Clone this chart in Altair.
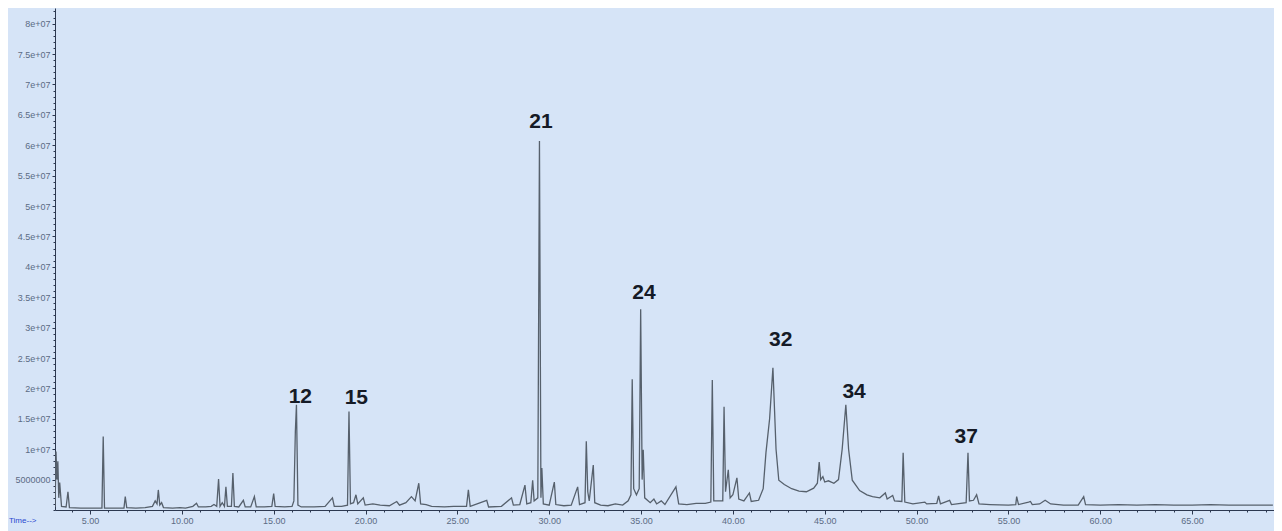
import altair as alt
import pandas as pd

# ---- chromatogram trace (retention time in min, abundance) ----
time_min = [
    3.10, 3.15, 3.20, 3.25, 3.30, 3.35, 3.45, 3.70, 3.80, 3.88, 4.50, 5.00,
    5.65, 5.72, 5.79, 6.50, 6.85, 6.92, 7.00, 7.50, 8.00, 8.40, 8.55, 8.65,
    8.72, 8.80, 8.90, 9.00, 9.50, 9.90, 10.20, 10.60, 10.80, 10.90, 11.30, 11.60,
    11.75, 11.90, 12.00, 12.08, 12.20, 12.32, 12.40, 12.48, 12.70, 12.78, 12.86, 13.10,
    13.35, 13.45, 13.75, 13.95, 14.05, 14.50, 14.90, 15.00, 15.08, 15.60, 16.00, 16.10,
    16.18, 16.24, 16.32, 16.50, 17.20, 17.80, 18.20, 18.30, 18.70, 19.02, 19.10, 19.18,
    19.35, 19.48, 19.58, 19.88, 19.98, 20.40, 20.80, 21.30, 21.70, 21.85, 22.20, 22.50,
    22.70, 22.90, 23.00, 23.30, 23.60, 24.30, 24.80, 25.50, 25.60, 25.70, 26.60, 26.70,
    27.40, 27.95, 28.05, 28.40, 28.68, 28.78, 29.00, 29.10, 29.18, 29.38, 29.47, 29.55,
    29.60, 29.68, 30.00, 30.28, 30.36, 30.80, 31.20, 31.55, 31.65, 31.95, 32.02, 32.10,
    32.18, 32.40, 32.48, 32.80, 33.20, 33.60, 34.00, 34.30, 34.45, 34.52, 34.60, 34.75,
    34.90, 34.98, 35.06, 35.12, 35.20, 35.50, 35.70, 35.85, 36.10, 36.30, 36.90, 37.05,
    37.50, 38.00, 38.50, 38.80, 38.88, 38.96, 39.20, 39.45, 39.52, 39.60, 39.75, 39.85,
    40.00, 40.22, 40.32, 40.60, 40.90, 41.00, 41.40, 41.65, 41.80, 42.00, 42.18, 42.35,
    42.50, 42.80, 43.20, 43.60, 44.00, 44.40, 44.60, 44.70, 44.78, 44.90, 45.00, 45.20,
    45.50, 45.75, 45.95, 46.15, 46.30, 46.50, 46.90, 47.30, 47.60, 48.00, 48.30, 48.40,
    48.70, 48.80, 49.20, 49.27, 49.36, 49.80, 50.45, 50.55, 51.10, 51.20, 51.30, 51.80,
    51.90, 52.70, 52.80, 52.88, 53.10, 53.27, 53.40, 54.00, 55.00, 55.40, 55.45, 55.55,
    56.10, 56.20, 56.30, 56.70, 57.00, 57.30, 58.00, 58.80, 59.10, 59.20, 60.00, 61.00,
    62.00, 63.00, 64.00, 65.00, 66.00, 67.00, 68.00, 69.40,
]
abundance = [
    0.5e6, 9.6e6, 5.0e6, 8.0e6, 2.0e6, 4.5e6, 0.6e6, 0.5e6, 3.0e6, 0.4e6, 0.3e6, 0.3e6,
    0.3e6, 12.1e6, 0.3e6, 0.3e6, 0.3e6, 2.2e6, 0.4e6, 0.3e6, 0.4e6, 0.6e6, 1.5e6, 1.0e6,
    3.3e6, 0.8e6, 1.2e6, 0.4e6, 0.3e6, 0.4e6, 0.3e6, 0.6e6, 1.1e6, 0.5e6, 0.5e6, 0.6e6,
    0.9e6, 0.6e6, 5.1e6, 0.6e6, 1.2e6, 0.6e6, 3.8e6, 0.6e6, 0.6e6, 6.1e6, 0.6e6, 0.5e6,
    1.6e6, 0.5e6, 0.5e6, 2.2e6, 0.5e6, 0.5e6, 0.6e6, 2.7e6, 0.6e6, 0.5e6, 0.6e6, 1.5e6,
    12.9e6, 17.3e6, 0.8e6, 0.5e6, 0.5e6, 0.6e6, 2.0e6, 0.6e6, 0.6e6, 0.8e6, 16.2e6, 1.0e6,
    1.2e6, 2.5e6, 1.0e6, 2.0e6, 0.8e6, 1.0e6, 0.8e6, 0.7e6, 1.4e6, 0.8e6, 1.2e6, 2.2e6,
    1.5e6, 4.4e6, 1.0e6, 0.9e6, 0.6e6, 0.5e6, 0.6e6, 0.6e6, 3.3e6, 0.6e6, 1.6e6, 0.5e6,
    0.6e6, 2.0e6, 0.8e6, 0.9e6, 4.1e6, 1.0e6, 1.2e6, 4.9e6, 1.5e6, 2.0e6, 60.7e6, 2.0e6,
    6.9e6, 1.0e6, 0.8e6, 4.6e6, 0.9e6, 0.7e6, 0.8e6, 3.8e6, 0.9e6, 1.2e6, 11.3e6, 3.0e6,
    1.5e6, 7.4e6, 1.2e6, 0.8e6, 0.7e6, 1.0e6, 0.8e6, 1.5e6, 2.5e6, 21.5e6, 3.5e6, 2.5e6,
    3.5e6, 33.0e6, 5.0e6, 9.9e6, 2.0e6, 1.2e6, 1.8e6, 1.0e6, 1.5e6, 0.9e6, 3.8e6, 1.0e6,
    0.9e6, 1.1e6, 1.1e6, 1.3e6, 21.4e6, 1.5e6, 1.5e6, 1.5e6, 17.0e6, 3.0e6, 6.6e6, 2.0e6,
    2.5e6, 5.3e6, 1.8e6, 1.5e6, 2.8e6, 1.4e6, 1.6e6, 3.5e6, 9.4e6, 15.0e6, 23.4e6, 10.0e6,
    4.9e6, 4.2e6, 3.5e6, 3.1e6, 3.0e6, 3.6e6, 4.4e6, 7.9e6, 5.0e6, 5.5e6, 4.6e6, 4.8e6,
    4.4e6, 5.0e6, 10.0e6, 17.3e6, 10.0e6, 4.9e6, 3.2e6, 2.5e6, 2.2e6, 2.0e6, 2.8e6, 1.8e6,
    2.4e6, 1.5e6, 1.4e6, 9.4e6, 1.3e6, 1.0e6, 1.3e6, 1.0e6, 1.1e6, 2.3e6, 1.0e6, 1.6e6,
    0.9e6, 1.2e6, 9.4e6, 1.5e6, 1.6e6, 2.5e6, 1.0e6, 0.9e6, 0.8e6, 0.9e6, 2.2e6, 0.9e6,
    1.3e6, 1.4e6, 0.9e6, 1.0e6, 1.6e6, 1.0e6, 0.8e6, 0.8e6, 2.2e6, 0.9e6, 0.8e6, 0.9e6,
    0.8e6, 0.9e6, 0.8e6, 0.8e6, 0.9e6, 0.8e6, 0.8e6, 0.8e6,
]

# ---- peak labels ----
peak_labels = ["12", "15", "21", "24", "32", "34", "37"]
peak_label_time = [16.45, 19.50, 29.55, 35.16, 42.60, 46.60, 52.70]
peak_label_abund = [18.6e6, 18.4e6, 63.8e6, 35.7e6, 28.0e6, 19.4e6, 12.0e6]

# ---- axis ticks ----
x_major = [5, 10, 15, 20, 25, 30, 35, 40, 45, 50, 55, 60, 65]
x_minor = list(range(4, 70))
y_major = [5e6, 10e6, 15e6, 20e6, 25e6, 30e6, 35e6, 40e6,
           45e6, 50e6, 55e6, 60e6, 65e6, 70e6, 75e6, 80e6]
y_minor = [i * 1e6 for i in range(0, 83)]

X_DOMAIN = [3.095, 69.46]
Y_DOMAIN = [0, 82.57e6]

trace = pd.DataFrame({"time": time_min, "abund": abundance})
labels = pd.DataFrame({"label": peak_labels, "time": peak_label_time, "abund": peak_label_abund})
time_lbl = pd.DataFrame({"txt": ["Time-->"]})

AX_COL = "#2c3850"
LBL_COL = "#5b6b84"
x_scale = alt.Scale(domain=X_DOMAIN, nice=False, zero=False)
y_scale = alt.Scale(domain=Y_DOMAIN, nice=False, zero=False)

common_axis = dict(title=None, grid=False, domainColor=AX_COL, tickColor=AX_COL,
                   labelFont="Liberation Sans", labelFontSize=9, labelColor=LBL_COL,
                   labelPadding=2, labelOverlap=False, labelFlush=False)

line = alt.Chart(trace).mark_line(color="#56606c", strokeWidth=1.3, clip=True).encode(
    x=alt.X("time:Q", scale=x_scale,
            axis=alt.Axis(values=x_major, format=".2f", tickSize=4, orient="bottom", **common_axis)),
    y=alt.Y("abund:Q", scale=y_scale,
            axis=alt.Axis(values=y_major, tickSize=3, orient="left",
                          labelExpr="datum.value == 5000000 ? '5000000' : replace(format(datum.value, '~e'), 'e+', 'e+0')",
                          **common_axis)),
)

minor = alt.Chart(trace).mark_line(opacity=0, clip=True).encode(
    x=alt.X("time:Q", scale=x_scale,
            axis=alt.Axis(values=x_minor, labels=False, domain=False, tickSize=2,
                          tickColor=AX_COL, title=None, grid=False, orient="bottom")),
    y=alt.Y("abund:Q", scale=y_scale,
            axis=alt.Axis(values=y_minor, labels=False, domain=False, tickSize=2,
                          tickColor=AX_COL, title=None, grid=False, orient="left")),
)

peak_text = alt.Chart(labels).mark_text(
    font="Liberation Sans", fontWeight="bold", fontSize=21, color="#151a26",
    baseline="middle", align="center",
).encode(
    x=alt.X("time:Q", scale=x_scale, axis=None),
    y=alt.Y("abund:Q", scale=y_scale, axis=None),
    text="label:N",
)

time_text = alt.Chart(time_lbl).mark_text(
    font="Liberation Sans", fontSize=8, color="#2a48d0", align="left", baseline="middle",
).encode(text="txt:N", x=alt.value(-46), y=alt.value(513))

chart = alt.layer(line, minor, peak_text, time_text).resolve_axis(
    x="independent", y="independent"
).properties(
    width=1219, height=502,
    background="#d6e4f7",
    padding={"left": 47, "top": 0, "right": 0, "bottom": 21},
    autosize=alt.AutoSizeParams(type="none"),
).configure_view(stroke=None)

chart.save("out.html", embed_options={"renderer": "svg", "actions": False})
